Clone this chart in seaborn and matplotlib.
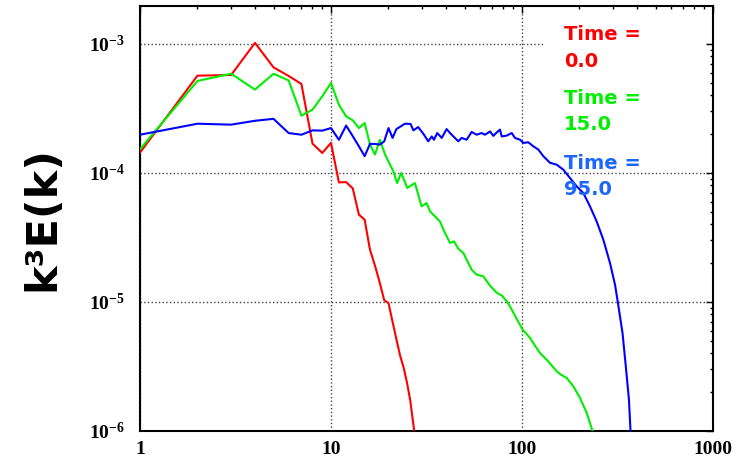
import numpy as np
import pandas as pd
import matplotlib
matplotlib.use("Agg")
import matplotlib.pyplot as plt
import matplotlib.patches as mpatches
import seaborn as sns

# ---------------- data ----------------
red_k = list(range(1, 29))
red_e = [1.44e-4, 5.68e-4, 5.75e-4, 1.02e-3, 6.59e-4, 5.65e-4, 4.9e-4, 1.69e-4,
         1.43e-4, 1.71e-4, 8.45e-5, 8.5e-5, 7.6e-5, 4.75e-5, 4.35e-5, 2.54e-5,
         1.91e-5, 1.41e-5, 1.03e-5, 9.8e-6, 7.03e-6, 5.14e-6, 3.84e-6, 3.1e-6,
         2.37e-6, 1.72e-6, 1.12e-6, 7.6e-7]

green_k = [1, 2, 3, 4, 5, 6, 7, 8, 9, 10, 11, 12, 13, 14, 15, 16, 17, 18, 19.2,
           21.2, 22.2, 23.3, 25.1, 27.5, 29.8, 31.7, 33.0, 37.2, 39.5, 42.0, 44.1,
           46.4, 49.3, 51.3, 54.5, 57.9, 62.7, 68.0, 73.7, 78.6, 83.2, 86.5, 93.0,
           100.9, 110.2, 117, 124.2, 134.6, 141.8, 152, 160, 171.4, 185.7, 201.4,
           218.2, 234.5, 244]
green_e = [1.53e-4, 5.17e-4, 5.88e-4, 4.43e-4, 5.88e-4, 5.22e-4, 2.78e-4, 3.1e-4,
           3.93e-4, 4.99e-4, 3.38e-4, 2.75e-4, 2.56e-4, 2.23e-4, 2.44e-4, 1.66e-4,
           1.39e-4, 1.81e-4, 1.39e-4, 1.03e-4, 8.36e-5, 1.0e-4, 7.66e-5, 8.36e-5,
           5.51e-5, 5.85e-5, 5.04e-5, 4.21e-5, 3.43e-5, 2.87e-5, 2.95e-5, 2.59e-5,
           2.40e-5, 2.13e-5, 1.78e-5, 1.63e-5, 1.58e-5, 1.34e-5, 1.18e-5, 1.12e-5,
           1.01e-5, 9.25e-6, 7.55e-6, 6.10e-6, 5.26e-6, 4.58e-6, 4.03e-6, 3.57e-6,
           3.27e-6, 2.90e-6, 2.73e-6, 2.58e-6, 2.22e-6, 1.80e-6, 1.38e-6, 0.99e-6,
           7.8e-7]

blue_k = [1, 2, 3, 4, 5, 6, 7, 8, 9, 10, 11, 12, 13, 14, 15, 16, 17, 18, 19, 20,
          21, 22, 24.4, 26.1, 27, 28.6, 30.4, 32.3, 33.7, 34.6, 36.0, 38.0, 40.3,
          42.0, 46.4, 48.3, 51.3, 54.5, 57.9, 61.5, 64.0, 68.0, 70.8, 73.7, 76.7,
          78.3, 83.2, 88.3, 91.9, 97.7, 101.6, 107.9, 114.6, 121.7, 129.3, 140.2,
          152, 164.6, 178.3, 193.3, 209.4, 227, 246, 266.6, 289, 307, 316, 336,
          349.5, 363, 370, 374]
blue_e = [1.98e-4, 2.41e-4, 2.37e-4, 2.54e-4, 2.63e-4, 2.04e-4, 1.98e-4, 2.14e-4,
          2.13e-4, 2.23e-4, 1.81e-4, 2.33e-4, 1.93e-4, 1.61e-4, 1.35e-4, 1.68e-4,
          1.68e-4, 1.66e-4, 1.76e-4, 2.23e-4, 1.87e-4, 2.19e-4, 2.41e-4, 2.40e-4,
          2.14e-4, 2.27e-4, 2.02e-4, 1.76e-4, 1.92e-4, 1.81e-4, 2.04e-4, 1.87e-4,
          2.19e-4, 2.04e-4, 1.76e-4, 1.87e-4, 1.81e-4, 2.08e-4, 1.98e-4, 2.04e-4,
          1.98e-4, 2.10e-4, 1.94e-4, 2.06e-4, 2.17e-4, 1.92e-4, 1.95e-4, 2.04e-4,
          1.87e-4, 1.81e-4, 1.71e-4, 1.73e-4, 1.61e-4, 1.52e-4, 1.35e-4, 1.20e-4,
          1.16e-4, 1.06e-4, 9.15e-5, 7.87e-5, 7.0e-5, 5.51e-5, 4.21e-5, 3.04e-5,
          2.0e-5, 1.36e-5, 1.04e-5, 5.75e-6, 3.17e-6, 1.75e-6, 1.0e-6, 7.8e-7]

series_labels = ["Time =\n0.0", "Time =\n15.0", "Time =\n95.0"]
line_colors = ["#ff0000", "#00ee00", "#0000ff"]
text_colors = ["#ff0000", "#00ee00", "#1a66ff"]

x_ticks = [1, 10, 100, 1000]
x_tick_labels = ["1", "10", "100", "1000"]
y_ticks = [1e-6, 1e-5, 1e-4, 1e-3]
y_tick_labels = [r"$\mathregular{10^{-6}}$", r"$\mathregular{10^{-5}}$",
                 r"$\mathregular{10^{-4}}$", r"$\mathregular{10^{-3}}$"]

# ---------------- style ----------------
sns.set_theme(style="white")
plt.rcParams["font.family"] = ["DejaVu Sans"]
plt.rcParams["mathtext.fontset"] = "custom"
plt.rcParams["mathtext.rm"] = "Liberation Serif:bold"
plt.rcParams["mathtext.bf"] = "Liberation Serif:bold"
plt.rcParams["mathtext.it"] = "Liberation Serif:bold"

fig = plt.figure(figsize=(7.5, 4.62), dpi=100)
ax = fig.add_axes([140 / 750, 1 - 431 / 462, 573 / 750, 425 / 462])
ax.set_xscale("log")
ax.set_yscale("log")

frames = [
    pd.DataFrame({"k": red_k, "E": red_e}),
    pd.DataFrame({"k": green_k, "E": green_e}),
    pd.DataFrame({"k": blue_k, "E": blue_e}),
]
for df, col in zip(frames, line_colors):
    sns.lineplot(data=df, x="k", y="E", color=col, linewidth=1.5, ax=ax,
                 estimator=None, sort=False, zorder=3)

ax.set_xlim(1, 1000)
ax.set_ylim(1e-6, 1.97e-3)

ax.grid(True, which="major", linestyle=":", color="#444444", linewidth=1.0)
ax.grid(False, which="minor")

ax.set_xticks(x_ticks, labels=x_tick_labels)
ax.set_yticks(y_ticks, labels=y_tick_labels)
for lab in ax.get_xticklabels() + ax.get_yticklabels():
    lab.set_fontfamily("Liberation Serif")
    lab.set_fontweight("bold")
    lab.set_fontsize(14)

ax.tick_params(which="both", direction="in", top=True, right=True,
               colors="black", width=1)
ax.tick_params(which="major", length=5)
ax.tick_params(which="minor", length=2.5)
ax.tick_params(axis="x", which="major", pad=7)
ax.tick_params(axis="y", which="major", pad=11)

for sp in ax.spines.values():
    sp.set_color("black")
    sp.set_linewidth(1.5)

ax.set_xlabel("")
ax.set_ylabel("k³E(k)", fontsize=31, fontweight="bold", family="DejaVu Sans",
              color="black")
ax.yaxis.set_label_coords(-0.133, 0.5)

# white area behind the upper annotations
ax.add_patch(mpatches.Rectangle((0.705, 0.80), 0.281, 0.17,
                                transform=ax.transAxes, facecolor="white",
                                edgecolor="none", zorder=1))

text_y = [0.955, 0.805, 0.652]
for lab, col, yy in zip(series_labels, text_colors, text_y):
    ax.text(0.740, yy, lab, color=col, transform=ax.transAxes, va="top",
            ha="left", fontsize=14, fontweight="bold", family="DejaVu Sans",
            linespacing=1.5, zorder=4)

fig.savefig("out.png", dpi=100)
